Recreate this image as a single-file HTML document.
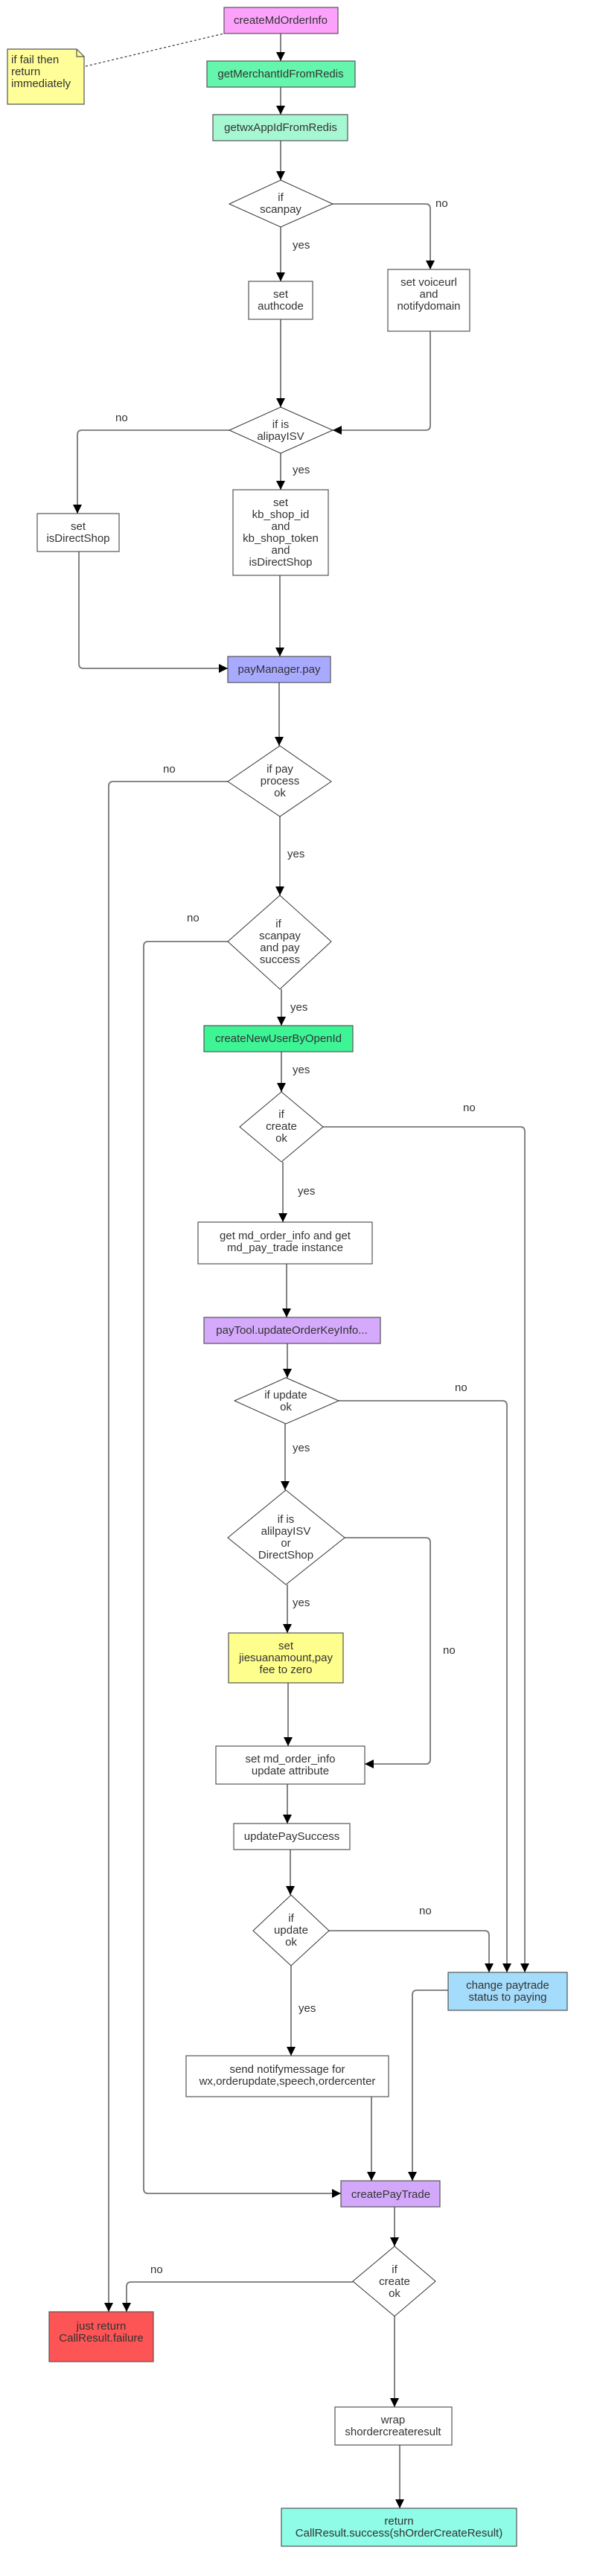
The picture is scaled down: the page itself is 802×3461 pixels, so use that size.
<!DOCTYPE html>
<html><head><meta charset="utf-8"><style>
html,body{margin:0;padding:0;background:#fff;}
svg{display:block;}
text{font-family:"Liberation Sans",Arial,sans-serif;font-size:15px;fill:#333;}
.b{stroke:#555;stroke-width:1.2;}
.l{stroke:#777;stroke-width:1.8;fill:none;}
</style></head><body>
<svg width="802" height="3461" viewBox="0 0 802 3461" xmlns="http://www.w3.org/2000/svg">
<defs>
<marker id="a" markerUnits="userSpaceOnUse" markerWidth="12" markerHeight="12" refX="12" refY="6" orient="auto">
<path d="M0,0 L12,6 L0,12 z" fill="#000"/>
</marker>
</defs>

<path d="M10,66 L103,66 L113,76 L113,140 L10,140 z" fill="#fffe99" class="b"/>
<path d="M103,66 L103,76 L113,76" fill="none" class="b"/>
<text x="15" y="85">if fail then</text>
<text x="15" y="101">return</text>
<text x="15" y="117">immediately</text>
<line x1="115" y1="89" x2="301" y2="45" stroke="#333" stroke-width="1.2" stroke-dasharray="3,3"/>

<g class="l" marker-end="url(#a)">
<path d="M377,45 V82"/>
<path d="M377,117 V154"/>
<path d="M377,189 V242"/>
<path d="M377,305 V378"/>
<path d="M447,274 H572 Q578,274 578,280 V362"/>
<path d="M377,429 V547"/>
<path d="M578,445 V572 Q578,578 572,578 H447"/>
<path d="M308,578 H110 Q104,578 104,584 V690"/>
<path d="M377,609 V658"/>
<path d="M106,741 V892 Q106,898 112,898 H306"/>
<path d="M376,773 V882"/>
<path d="M375,917 V1002"/>
<path d="M306,1050 H152 Q146,1050 146,1056 V3106"/>
<path d="M376,1097 V1203"/>
<path d="M306,1265 H199 Q193,1265 193,1271 V2941 Q193,2947 199,2947 H458"/>
<path d="M378,1329 V1378"/>
<path d="M378,1413 V1467"/>
<path d="M434,1514 H699 Q705,1514 705,1520 V2650"/>
<path d="M380,1561 V1642"/>
<path d="M385,1698 V1770"/>
<path d="M386,1805 V1851"/>
<path d="M455,1882 H675 Q681,1882 681,1888 V2650"/>
<path d="M383,1913 V2002"/>
<path d="M463,2066 H572 Q578,2066 578,2072 V2364 Q578,2370 572,2370 H490"/>
<path d="M386,2129 V2194"/>
<path d="M387,2261 V2346"/>
<path d="M386,2397 V2450"/>
<path d="M390,2485 V2546"/>
<path d="M442,2594 H651 Q657,2594 657,2600 V2650"/>
<path d="M602,2674 H560 Q554,2674 554,2680 V2930"/>
<path d="M391,2641 V2762"/>
<path d="M499,2817 V2930"/>
<path d="M530,2965 V3018"/>
<path d="M474,3066 H176 Q170,3066 170,3072 V3106"/>
<path d="M530,3112 V3234"/>
<path d="M537,3285 V3370"/>
</g>

<text x="393" y="334">yes</text>
<text x="585" y="278">no</text>
<text x="155" y="566">no</text>
<text x="393" y="636">yes</text>
<text x="219" y="1038">no</text>
<text x="386" y="1152">yes</text>
<text x="251" y="1238">no</text>
<text x="390" y="1358">yes</text>
<text x="393" y="1442">yes</text>
<text x="622" y="1493">no</text>
<text x="400" y="1605">yes</text>
<text x="611" y="1869">no</text>
<text x="393" y="1950">yes</text>
<text x="595" y="2222">no</text>
<text x="393" y="2158">yes</text>
<text x="563" y="2572">no</text>
<text x="401" y="2703">yes</text>
<text x="202" y="3054">no</text>

<rect x="301" y="10" width="153" height="35" fill="#fca2fc" class="b"/>
<text x="377" y="32" text-anchor="middle">createMdOrderInfo</text>
<rect x="278" y="82" width="199" height="35" fill="#66f5ac" class="b"/>
<text x="377" y="104" text-anchor="middle">getMerchantIdFromRedis</text>
<rect x="286" y="154" width="181" height="35" fill="#a6f8d3" class="b"/>
<text x="377" y="176" text-anchor="middle">getwxAppIdFromRedis</text>

<path d="M377,242 L447,274 L377,305 L308,274 z" fill="#fff" stroke="#333" stroke-width="1"/>
<text x="377" y="270" text-anchor="middle">if</text>
<text x="377" y="286" text-anchor="middle">scanpay</text>

<rect x="334" y="378" width="86" height="51" fill="#fff" class="b"/>
<text x="377" y="400" text-anchor="middle">set</text>
<text x="377" y="416" text-anchor="middle">authcode</text>

<rect x="521" y="362" width="110" height="83" fill="#fff" class="b"/>
<text x="576" y="384" text-anchor="middle">set voiceurl</text>
<text x="576" y="400" text-anchor="middle">and</text>
<text x="576" y="416" text-anchor="middle">notifydomain</text>

<path d="M377,547 L447,578 L377,609 L308,578 z" fill="#fff" stroke="#333" stroke-width="1"/>
<text x="377" y="575" text-anchor="middle">if is</text>
<text x="377" y="591" text-anchor="middle">alipayISV</text>

<rect x="50" y="690" width="110" height="51" fill="#fff" class="b"/>
<text x="105" y="712" text-anchor="middle">set</text>
<text x="105" y="728" text-anchor="middle">isDirectShop</text>

<rect x="313" y="658" width="128" height="115" fill="#fff" class="b"/>
<text x="377" y="680" text-anchor="middle">set</text>
<text x="377" y="696" text-anchor="middle">kb_shop_id</text>
<text x="377" y="712" text-anchor="middle">and</text>
<text x="377" y="728" text-anchor="middle">kb_shop_token</text>
<text x="377" y="744" text-anchor="middle">and</text>
<text x="377" y="760" text-anchor="middle">isDirectShop</text>

<rect x="306" y="882" width="138" height="35" fill="#a8aaff" class="b"/>
<text x="375" y="904" text-anchor="middle">payManager.pay</text>

<path d="M376,1002 L445,1050 L376,1097 L306,1050 z" fill="#fff" stroke="#333" stroke-width="1"/>
<text x="376" y="1038" text-anchor="middle">if  pay</text>
<text x="376" y="1054" text-anchor="middle">process</text>
<text x="376" y="1070" text-anchor="middle">ok</text>

<path d="M376,1203 L445,1265 L376,1329 L306,1265 z" fill="#fff" stroke="#333" stroke-width="1"/>
<text x="374" y="1246" text-anchor="middle">if</text>
<text x="376" y="1262" text-anchor="middle">scanpay</text>
<text x="376" y="1278" text-anchor="middle">and pay</text>
<text x="376" y="1294" text-anchor="middle">success</text>

<rect x="274" y="1378" width="200" height="35" fill="#3ef596" class="b"/>
<text x="374" y="1400" text-anchor="middle">createNewUserByOpenId</text>

<path d="M378,1467 L434,1514 L378,1561 L322,1514 z" fill="#fff" stroke="#333" stroke-width="1"/>
<text x="378" y="1502" text-anchor="middle">if</text>
<text x="378" y="1518" text-anchor="middle">create</text>
<text x="378" y="1534" text-anchor="middle">ok</text>

<rect x="266" y="1642" width="234" height="56" fill="#fff" class="b"/>
<text x="383" y="1665" text-anchor="middle">get md_order_info and get</text>
<text x="383" y="1681" text-anchor="middle">md_pay_trade instance</text>

<rect x="274" y="1770" width="237" height="35" fill="#d5a9fb" class="b"/>
<text x="392" y="1792" text-anchor="middle">payTool.updateOrderKeyInfo...</text>

<path d="M384,1851 L455,1882 L384,1913 L315,1882 z" fill="#fff" stroke="#333" stroke-width="1"/>
<text x="384" y="1879" text-anchor="middle">if update</text>
<text x="384" y="1895" text-anchor="middle">ok</text>

<path d="M384,2002 L463,2066 L384,2129 L306,2066 z" fill="#fff" stroke="#333" stroke-width="1"/>
<text x="384" y="2046" text-anchor="middle">if is</text>
<text x="384" y="2062" text-anchor="middle">alilpayISV</text>
<text x="384" y="2078" text-anchor="middle">or</text>
<text x="384" y="2094" text-anchor="middle">DirectShop</text>

<rect x="307" y="2194" width="154" height="67" fill="#fefe8c" class="b"/>
<text x="384" y="2216" text-anchor="middle">set</text>
<text x="384" y="2232" text-anchor="middle">jiesuanamount,pay</text>
<text x="384" y="2248" text-anchor="middle">fee to zero</text>

<rect x="290" y="2346" width="200" height="51" fill="#fff" class="b"/>
<text x="390" y="2368" text-anchor="middle">set md_order_info</text>
<text x="390" y="2384" text-anchor="middle">update attribute</text>

<rect x="314" y="2450" width="156" height="35" fill="#fff" class="b"/>
<text x="392" y="2472" text-anchor="middle">updatePaySuccess</text>

<path d="M391,2546 L442,2594 L391,2641 L340,2594 z" fill="#fff" stroke="#333" stroke-width="1"/>
<text x="391" y="2582" text-anchor="middle">if</text>
<text x="391" y="2598" text-anchor="middle">update</text>
<text x="391" y="2614" text-anchor="middle">ok</text>

<rect x="602" y="2650" width="160" height="51" fill="#a4dcfc" class="b"/>
<text x="682" y="2672" text-anchor="middle">change paytrade</text>
<text x="682" y="2688" text-anchor="middle">status to paying</text>

<rect x="250" y="2762" width="272" height="55" fill="#fff" class="b"/>
<text x="386" y="2785" text-anchor="middle">send notifymessage for</text>
<text x="386" y="2801" text-anchor="middle">wx,orderupdate,speech,ordercenter</text>

<rect x="458" y="2930" width="133" height="35" fill="#d3a8fb" class="b"/>
<text x="525" y="2953" text-anchor="middle">createPayTrade</text>

<path d="M530,3018 L585,3065 L530,3112 L474,3065 z" fill="#fff" stroke="#333" stroke-width="1"/>
<text x="530" y="3054" text-anchor="middle">if</text>
<text x="530" y="3070" text-anchor="middle">create</text>
<text x="530" y="3086" text-anchor="middle">ok</text>

<rect x="66" y="3106" width="140" height="67" fill="#fd5555" class="b"/>
<text x="136" y="3130" text-anchor="middle">just return</text>
<text x="136" y="3146" text-anchor="middle">CallResult.failure</text>

<rect x="450" y="3234" width="157" height="51" fill="#fff" class="b"/>
<text x="528" y="3256" text-anchor="middle">wrap</text>
<text x="528" y="3272" text-anchor="middle">shordercreateresult</text>

<rect x="378" y="3370" width="316" height="51" fill="#8efce6" class="b"/>
<text x="536" y="3392" text-anchor="middle">return</text>
<text x="536" y="3408" text-anchor="middle">CallResult.success(shOrderCreateResult)</text>
</svg>
</body></html>
